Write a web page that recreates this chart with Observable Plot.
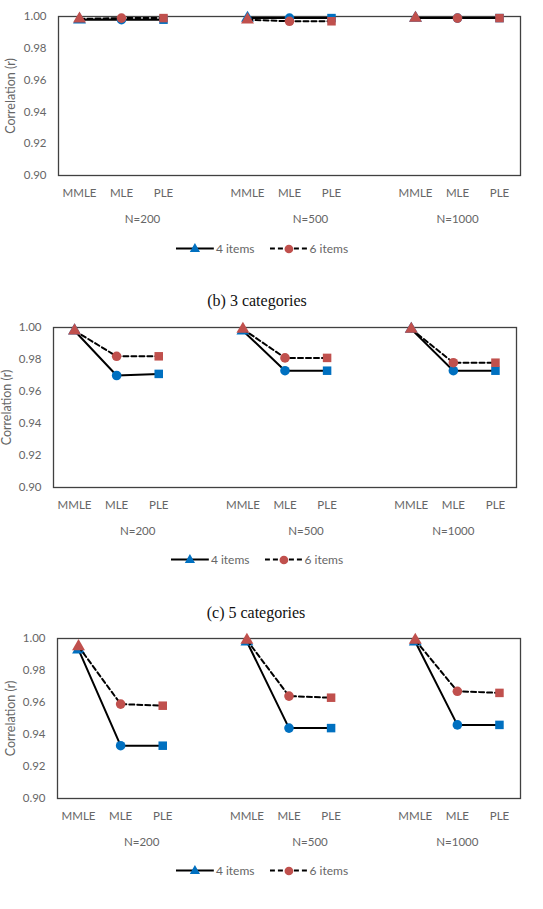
<!DOCTYPE html>
<html>
<head>
<meta charset="utf-8">
<script src="https://cdn.jsdelivr.net/npm/d3@7"></script>
<script src="https://cdn.jsdelivr.net/npm/@observablehq/plot@0.6"></script>
<style>
  html, body { margin: 0; padding: 0; background: #fff; }
  #page { position: relative; width: 543px; height: 909px; overflow: hidden; background: #fff; }
  .block { position: absolute; left: 0; }
  .title { position: absolute; font-family: "Liberation Serif", "Times New Roman", serif; font-size: 16px; color: #111; transform: translate(-50%, -50%); white-space: nowrap; }
  .legend { position: absolute; transform: translate(-50%, -50%); display: flex; align-items: center;
            font-family: Lato, "Noto Sans", sans-serif; font-size: 12px; color: #666; white-space: nowrap; }
  .legend .item { display: flex; align-items: center; gap: 2px; }
</style>
</head>
<body>
<div id="page"></div>
<script>
// Estimation methods and sample-size groups along the x axis
const methods = ["MMLE", "MLE", "PLE"];
const sampleSizes = ["N=200", "N=500", "N=1000"];
const seriesNames = ["4 items", "6 items"];
const yTicks = [0.90, 0.92, 0.94, 0.96, 0.98, 1.00];

// Correlations, ordered N=200 (MMLE, MLE, PLE), N=500 (...), N=1000 (...)
const cat2Items4 = [0.998, 0.998, 0.998, 0.999, 0.999, 0.999, 0.999, 0.999, 0.999];
const cat2Items6 = [0.9985, 0.999, 0.999, 0.998, 0.997, 0.997, 0.999, 0.999, 0.999];
const cat3Items4 = [0.998, 0.970, 0.971, 0.998, 0.973, 0.973, 0.999, 0.973, 0.973];
const cat3Items6 = [0.998, 0.982, 0.982, 0.999, 0.981, 0.981, 0.999, 0.978, 0.978];
const cat5Items4 = [0.993, 0.933, 0.933, 0.998, 0.944, 0.944, 0.998, 0.946, 0.946];
const cat5Items6 = [0.995, 0.959, 0.958, 0.999, 0.964, 0.963, 0.999, 0.967, 0.966];

const panelTitles = [null, "(b) 3 categories", "(c) 5 categories"];

const BLUE = "#0070C0";
const RED = "#C0504D";
const FONT = "Lato, 'Noto Sans', sans-serif";
const TEXT = "#666666";

// Each group occupies three slots followed by an empty separator slot
const SLOTS = sampleSizes.length * 4 - 1;

function rows(values, series) {
  const out = [];
  sampleSizes.forEach((n, g) => {
    methods.forEach((m, i) => {
      out.push({series, group: n, method: m, slot: g * 4 + i + 0.5, value: values[g * 3 + i]});
    });
  });
  return out;
}

const groupLabels = sampleSizes.map((n, g) => ({
  label: n,
  center: (g * 4 + Math.min(g * 4 + 4, SLOTS)) / 2
}));

function chart(values4, values6, layout) {
  const d4 = rows(values4, seriesNames[0]);
  const d6 = rows(values6, seriesNames[1]);
  return Plot.plot({
    width: 543,
    height: layout.height,
    marginTop: layout.marginTop,
    marginBottom: layout.marginBottom,
    marginLeft: layout.marginLeft,
    marginRight: layout.marginRight,
    x: {domain: [0, SLOTS], axis: null},
    y: {domain: [0.90, 1.00], axis: null},
    symbol: {domain: methods, range: ["triangle", "circle", "square"]},
    style: {fontFamily: FONT, fontSize: "11.5px", color: TEXT, background: "white", overflow: "visible"},
    marks: [
      Plot.frame({stroke: "#404040", strokeWidth: 1.3}),
      Plot.axisY({ticks: yTicks, tickSize: 0, tickPadding: 12, tickFormat: d3.format(".2f"), label: null, fontSize: 11.5}),
      Plot.text(["Correlation (r)"], {frameAnchor: "left", textAnchor: "middle", rotate: -90, dx: -layout.titleOffset, fill: TEXT, fontSize: 12.5}),
      Plot.text(d4, {x: "slot", text: "method", frameAnchor: "bottom", dy: 17.5, lineAnchor: "middle", fill: TEXT, fontSize: 11.5}),
      Plot.text(groupLabels, {x: "center", text: "label", frameAnchor: "bottom", dy: 43.5, lineAnchor: "middle", fill: TEXT, fontSize: 11.5}),
      Plot.line(d4, {x: "slot", y: "value", z: "group", stroke: "black", strokeWidth: 2}),
      Plot.dot(d4, {x: "slot", y: "value", symbol: "method", fill: BLUE, r: 4.8}),
      Plot.line(d6, {x: "slot", y: "value", z: "group", stroke: "black", strokeWidth: 2, strokeDasharray: "5,3"}),
      Plot.dot(d6, {x: "slot", y: "value", symbol: "method", fill: RED, r: 4.8})
    ]
  });
}

function legend(cx, cy) {
  const div = document.createElement("div");
  div.className = "legend";
  div.style.left = cx + "px";
  div.style.top = cy + "px";
  const sample = (dash, symbol, color) => {
    const sym = d3.symbol().type(symbol === "triangle" ? d3.symbolTriangle : d3.symbolCircle).size(symbol === "triangle" ? 45 : 60)();
    return `<svg width="38" height="12"><line x1="0" x2="38" y1="6" y2="6" stroke="black" stroke-width="2" ${dash ? 'stroke-dasharray="5,3"' : ""}/>` +
      `<path d="${sym}" transform="translate(19,6.5)" fill="${color}"/></svg>`;
  };
  div.innerHTML =
    `<span class="item">${sample(false, "triangle", BLUE)}<span>${seriesNames[0]}</span></span>` +
    `<span class="item" style="margin-left:15px">${sample(true, "circle", RED)}<span>${seriesNames[1]}</span></span>`;
  return div;
}

const page = document.getElementById("page");
const panels = [
  {v4: cat2Items4, v6: cat2Items6, top: 0, marginTop: 16, frameH: 159, marginLeft: 58, marginRight: 23, titleOffset: 48, legend: [262, 248]},
  {v4: cat3Items4, v6: cat3Items6, top: 311, marginTop: 16, frameH: 160, marginLeft: 53, marginRight: 27, titleOffset: 47, legend: [257, 559], title: [257, 301]},
  {v4: cat5Items4, v6: cat5Items6, top: 622, marginTop: 16, frameH: 160, marginLeft: 57, marginRight: 23, titleOffset: 47, legend: [262, 870], title: [256, 613]}
];

panels.forEach((p, i) => {
  const marginBottom = 55;
  const svg = chart(p.v4, p.v6, {
    height: p.marginTop + p.frameH + marginBottom,
    marginTop: p.marginTop,
    marginBottom,
    marginLeft: p.marginLeft,
    marginRight: p.marginRight,
    titleOffset: p.titleOffset
  });
  const wrap = document.createElement("div");
  wrap.className = "block";
  wrap.style.top = p.top + "px";
  wrap.appendChild(svg);
  page.appendChild(wrap);
  page.appendChild(legend(p.legend[0], p.legend[1]));
  if (panelTitles[i]) {
    const t = document.createElement("div");
    t.className = "title";
    t.textContent = panelTitles[i];
    t.style.left = p.title[0] + "px";
    t.style.top = p.title[1] + "px";
    page.appendChild(t);
  }
});
</script>
</body>
</html>
